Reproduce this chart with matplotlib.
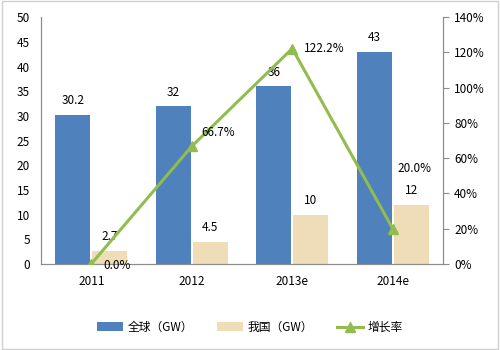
import matplotlib.pyplot as plt
import numpy as np

plt.rcParams['font.family'] = ['Noto Sans CJK SC', 'DejaVu Sans']

# data
years = ['2011', '2012', '2013e', '2014e']
world = [30.2, 32, 36, 43]
china = [2.7, 4.5, 10, 12]
growth = [0.0, 66.7, 122.2, 20.0]

blue = '#4F81BD'
tan = '#EFDDB8'
green = '#92BC4E'
grey = '#8C8C8C'

fig = plt.figure(figsize=(5, 3.5), dpi=100)
ax = fig.add_axes([0.082, 0.246, 0.804, 0.705])
ax2 = ax.twinx()

x = np.arange(len(years))
w = 0.35
b1 = ax.bar(x - w / 2 - 0.01, world, w, color=blue, label='全球（GW）', zorder=2)
b2 = ax.bar(x + w / 2 + 0.01, china, w, color=tan, label='我国（GW）', zorder=2)

for xi, v in zip(x, world):
    ax.text(xi - w / 2 - 0.01, v + 1.5, f'{v:g}', ha='center', va='bottom', fontsize=8.5)
for xi, v in zip(x, china):
    ax.text(xi + w / 2 + 0.01, v + 1.5, f'{v:g}', ha='center', va='bottom', fontsize=8.5)

ln, = ax2.plot(x, growth, color=green, lw=2.2, marker='^', ms=7,
               label='增长率', zorder=3)
offs = [(0.12, -1), (0.1, 8), (0.12, 0), (0.05, 34)]
for xi, v, (dx, dy) in zip(x, growth, offs):
    ax2.text(xi + dx, v + dy, f'{v:.1f}%', ha='left', va='center', fontsize=8.5)

ax.set_xlim(-0.5, 3.5)
ax.set_ylim(0, 50)
ax.set_yticks(range(0, 51, 5))
ax2.set_ylim(0, 140)
ax2.set_yticks(range(0, 141, 20))
ax2.set_yticklabels([f'{t}%' for t in range(0, 141, 20)])
ax.set_xticks(x)
ax.set_xticklabels(years)

for a in (ax, ax2):
    a.spines['top'].set_visible(False)
    for s in ('left', 'right', 'bottom'):
        a.spines[s].set_color(grey)
    a.tick_params(labelsize=8.5, colors='black')
ax.tick_params(axis='y', length=0, pad=8)
ax.tick_params(axis='x', length=0, pad=8)
ax2.tick_params(axis='y', length=4, color=grey, pad=4)

fig.legend([b1, b2, ln], ['全球（GW）', '我国（GW）', '增长率'],
           loc='center', bbox_to_anchor=(0.5, 0.065), ncol=3, frameon=False,
           fontsize=8.5, handlelength=2.2, handletextpad=0.4, columnspacing=2.0)

fig.patches.append(plt.Rectangle((0.004, 0.004), 0.992, 0.992, transform=fig.transFigure,
                                 fill=False, edgecolor='#D0D0D0', lw=1))

fig.savefig('out.png', dpi=100)
